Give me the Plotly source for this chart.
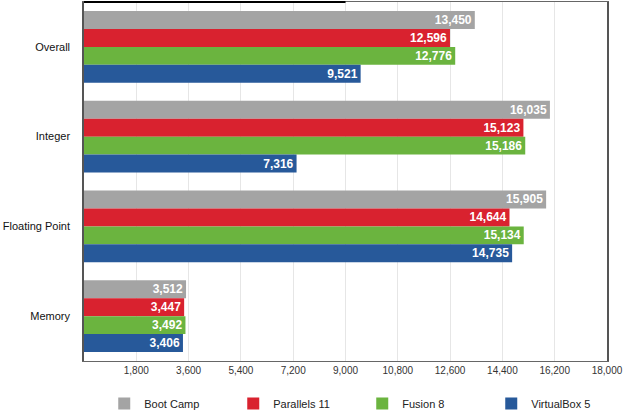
import plotly.graph_objects as go

categories = ["Overall", "Integer", "Floating Point", "Memory"]
series_names = ["Boot Camp", "Parallels 11", "Fusion 8", "VirtualBox 5"]
boot_camp = [13450, 16035, 15905, 3512]
parallels = [12596, 15123, 14644, 3447]
fusion = [12776, 15186, 15134, 3492]
virtualbox = [9521, 7316, 14735, 3406]
colors = ["#a4a4a4", "#d9222f", "#6bb43f", "#27599a"]
tick_vals = [1800, 3600, 5400, 7200, 9000, 10800, 12600, 14400, 16200, 18000]

fig = go.Figure()
for name, vals, col in zip(series_names, [boot_camp, parallels, fusion, virtualbox], colors):
    fig.add_trace(go.Bar(
        y=categories, x=vals, name=name, orientation="h",
        marker=dict(color=col, line=dict(width=0)),
        texttemplate="%{x:,}", textposition="inside", insidetextanchor="end",
        textfont=dict(color="white", size=12, family="Liberation Sans", weight="bold"),
        constraintext="none",
    ))

fig.update_layout(
    template="none",
    width=628, height=413,
    margin=dict(l=84, r=21, t=2, b=52, autoexpand=False),
    paper_bgcolor="white", plot_bgcolor="white",
    barmode="group", bargap=0.2, bargroupgap=0,
    font=dict(family="Liberation Sans", color="#222"),
    legend=dict(orientation="h", xref="container", x=0.166, xanchor="left",
                y=-0.078, yanchor="top",
                entrywidth=84, font=dict(size=11, color="#222"), itemclick=False,
                bgcolor="rgba(0,0,0,0)"),
    shapes=[dict(type="line", xref="paper", yref="paper", x0=0, x1=0.5, y0=1, y1=1,
                 line=dict(color="black", width=2))],
)
fig.update_xaxes(range=[0, 18000], tickvals=tick_vals, tickformat=",",
                 showgrid=True, gridcolor="#e6e6e6", gridwidth=1,
                 showline=True, linecolor="#666", linewidth=1, mirror=True,
                 ticks="", tickfont=dict(size=10, color="#333"), zeroline=False,
                 automargin=False)
fig.update_yaxes(autorange="reversed", showline=True, linecolor="#555", linewidth=1.5,
                 mirror=True, ticks="", ticklabelstandoff=10, showgrid=False,
                 tickfont=dict(size=11, color="#111"), automargin=False, zeroline=False)

fig.write_html("out.html", config={"displayModeBar": False},
               post_script="document.body.style.margin='0';document.body.style.overflow='hidden';")
